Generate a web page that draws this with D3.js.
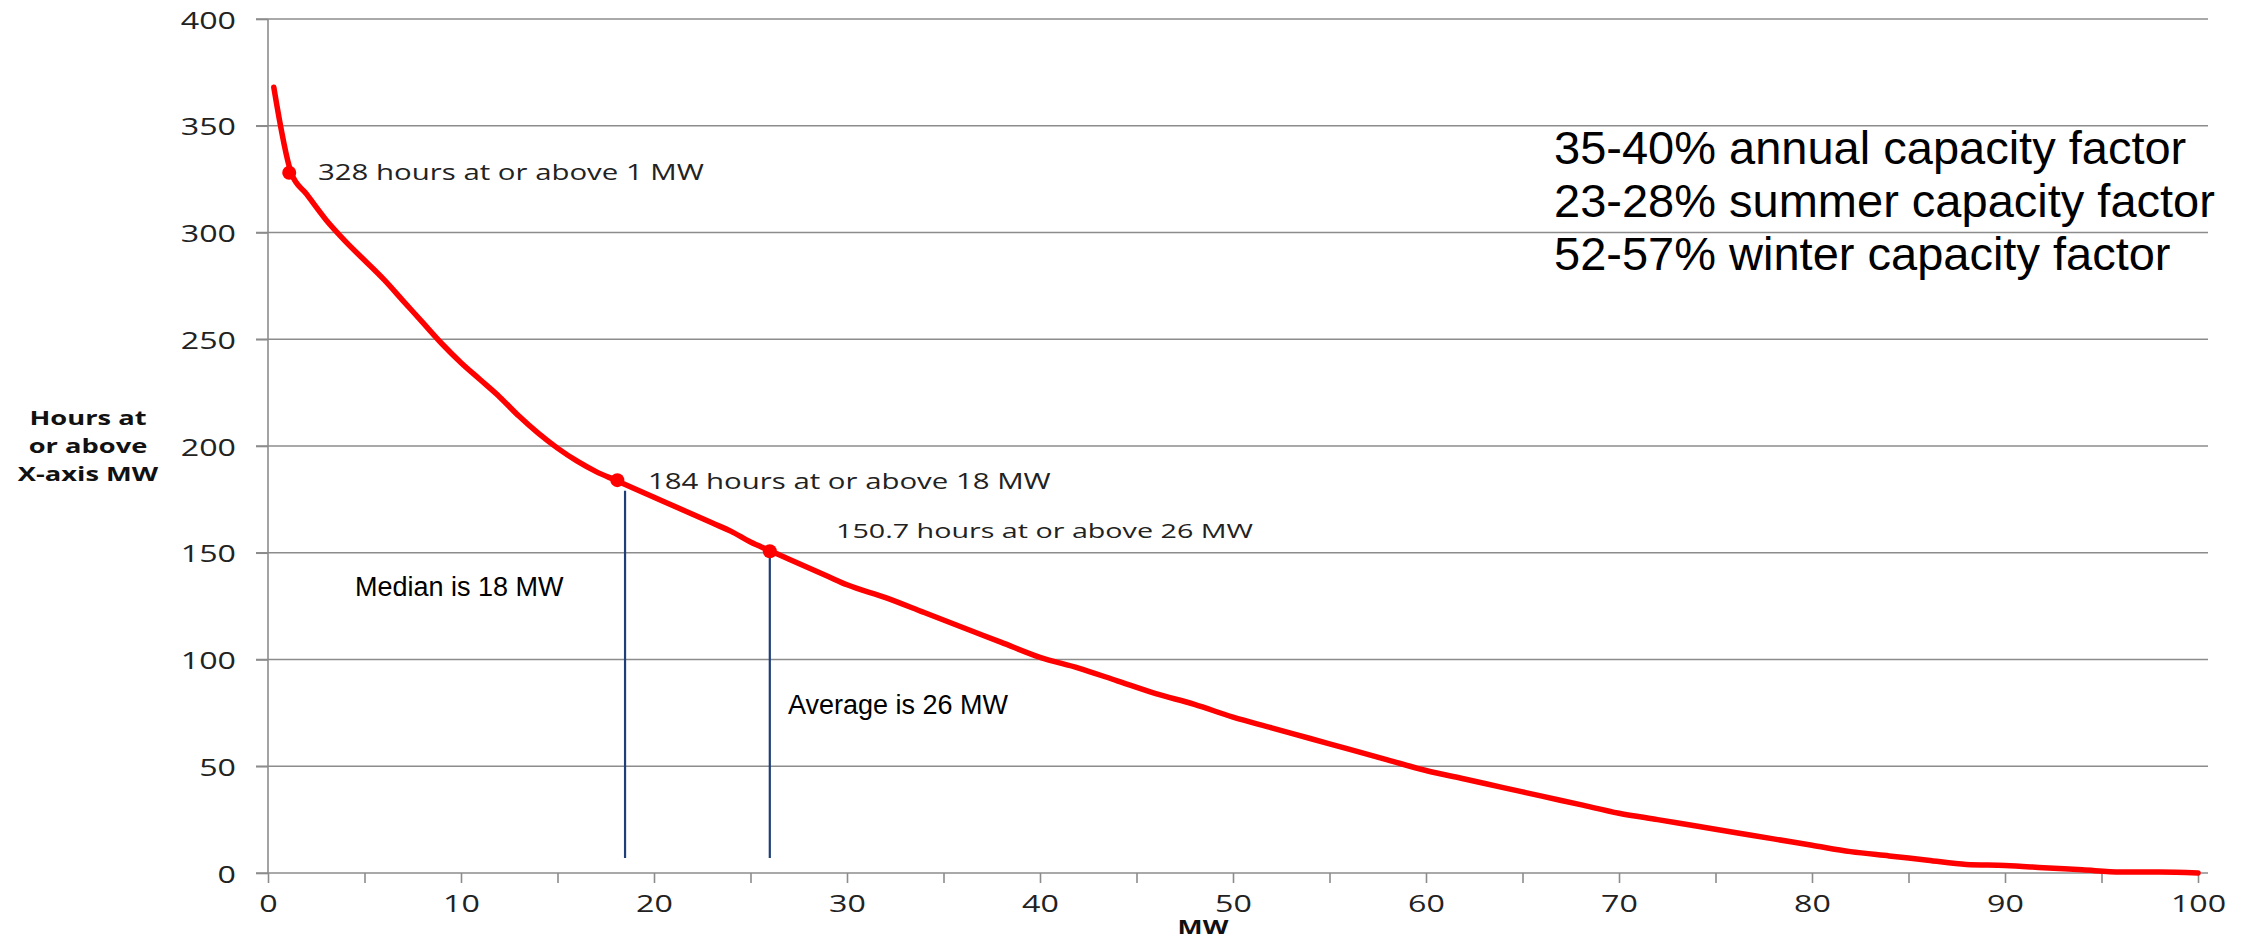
<!DOCTYPE html>
<html>
<head>
<meta charset="utf-8">
<script src="https://cdn.jsdelivr.net/npm/d3@7"></script>
<style>
  body { margin: 0; background: #fff; }
</style>
</head>
<body>
<script>
// duration curve
var mw = [0.3, 1.2, 2, 3, 4, 5, 6, 7, 8, 9, 10, 11, 12, 13, 14, 15, 16, 17, 18, 19,
          20, 21, 22, 23, 24, 25, 26, 27, 28, 29, 30, 32, 34, 36, 38, 40, 42, 44, 46, 48,
          50, 52, 54, 56, 58, 60, 62, 64, 66, 68, 70, 72, 74, 76, 78, 80, 82, 84, 86, 88,
          90, 92, 94, 96, 98, 100];
var hours = [368, 328, 318, 306, 296, 287, 278, 268, 258, 248, 239, 231, 223, 214, 206, 199, 193, 188, 184, 180,
             176, 172, 168, 164, 160, 155, 151, 147, 143, 139, 135, 129, 122, 115, 108, 101, 96, 90, 84, 79,
             73, 68, 63, 58, 53, 48, 44, 40, 36, 32, 28, 25, 22, 19, 16, 13, 10, 8, 6, 4,
             3.5, 2.5, 1.5, 0.5, 0.5, 0];

var yTicks = [0, 50, 100, 150, 200, 250, 300, 350, 400];
var xTicks = [0, 5, 10, 15, 20, 25, 30, 35, 40, 45, 50, 55, 60, 65, 70, 75, 80, 85, 90, 95, 100];

var markX = [1.1, 18.1, 26.0];
var markY = [328, 184, 150.7];
var markLabels = ['328 hours at or above 1 MW', '184 hours at or above 18 MW', '150.7 hours at or above 26 MW'];

var refX = [18.5, 26.0];
var refTop = [179, 148];
var refLabels = ['Median is 18 MW', 'Average is 26 MW'];

var notes = ['35-40% annual capacity factor', '23-28% summer capacity factor', '52-57% winter capacity factor'];

var w = 2249, h = 949,
  stretch = 1.4,
  calibri = "'Open Sans', 'Noto Sans', sans-serif",
  arial = "'Liberation Sans', Arial, sans-serif";

var x = d3.scaleLinear().domain([0, 100]).range([268, 2198]);
var y = d3.scaleLinear().domain([0, 400]).range([873, 19]);
var xEnd = 2208;

var svg = d3.select('body').append('svg')
  .attr('width', w)
  .attr('height', h)
  .style('display', 'block');

svg.append('rect').attr('width', w).attr('height', h).attr('fill', '#fff');

// stretched text, the source picture is wider than it was drawn
function stext(px, py, str, size, weight, anchor) {
  return svg.append('text')
    .attr('transform', 'translate(' + px + ',' + py + ') scale(' + stretch + ',1)')
    .attr('font-family', calibri)
    .attr('font-size', size + 'px')
    .attr('font-weight', weight || 'normal')
    .attr('text-anchor', anchor || 'start')
    .attr('dominant-baseline', 'central')
    .attr('fill', '#222')
    .text(str);
}

// gridlines
svg.selectAll('line.grid').data(yTicks.slice(1))
  .enter()
  .append('line')
  .attr('class', 'grid')
  .attr('x1', x(0) - 12)
  .attr('x2', xEnd)
  .attr('y1', function (d) { return y(d); })
  .attr('y2', function (d) { return y(d); })
  .attr('stroke', '#8c8c8c')
  .attr('stroke-width', 1.6);

// y axis
var yAxis = svg.append('g')
  .attr('transform', 'translate(' + x(0) + ',0)')
  .call(d3.axisLeft(y).tickValues(yTicks).tickSize(12).tickPadding(0).tickFormat(d3.format('d')));
yAxis.select('.domain').attr('stroke', '#8c8c8c').attr('stroke-width', 1.6).attr('d', 'M0,' + y(400) + 'V' + y(0));
yAxis.selectAll('.tick line').attr('stroke', '#8c8c8c').attr('stroke-width', 1.6);
yAxis.selectAll('.tick text')
  .attr('x', null)
  .attr('dy', null)
  .attr('transform', 'translate(-32,0) scale(' + stretch + ',1)')
  .attr('dominant-baseline', 'central')
  .attr('font-family', calibri)
  .attr('font-size', '23px')
  .attr('fill', '#222');

// x axis
var xAxis = svg.append('g')
  .attr('transform', 'translate(0,' + y(0) + ')')
  .call(d3.axisBottom(x).tickValues(xTicks).tickSize(10).tickSizeOuter(0)
    .tickFormat(function (d) { return d % 10 === 0 ? d : ''; }));
xAxis.select('.domain').attr('stroke', '#8c8c8c').attr('stroke-width', 1.6).attr('d', 'M' + (x(0) - 12) + ',0H' + xEnd);
xAxis.selectAll('.tick line').attr('stroke', '#8c8c8c').attr('stroke-width', 1.6);
xAxis.selectAll('.tick text')
  .attr('y', null)
  .attr('dy', null)
  .attr('transform', 'translate(0,30) scale(' + stretch + ',1)')
  .attr('dominant-baseline', 'central')
  .attr('font-family', calibri)
  .attr('font-size', '23px')
  .attr('fill', '#222');

// axis titles
['Hours at', 'or above', 'X-axis MW'].forEach(function (t, i) {
  stext(88, 418 + i * 28, t, 19.5, 'bold', 'middle').attr('fill', '#111');
});
stext(1203, 927, 'MW', 19, 'bold', 'middle').attr('fill', '#111');

// median / average reference lines
svg.selectAll('line.ref').data(refX)
  .enter()
  .append('line')
  .attr('class', 'ref')
  .attr('x1', function (d) { return x(d); })
  .attr('x2', function (d) { return x(d); })
  .attr('y1', function (d, i) { return y(refTop[i]); })
  .attr('y2', y(7))
  .attr('stroke', '#1f3f77')
  .attr('stroke-width', 2.2);

// the curve
var line = d3.line()
  .x(function (d, i) { return x(mw[i]); })
  .y(function (d) { return y(d); })
  .curve(d3.curveMonotoneX);

svg.append('path')
  .datum(hours)
  .attr('d', line)
  .attr('fill', 'none')
  .attr('stroke', '#ff0000')
  .attr('stroke-width', 5.5)
  .attr('stroke-linejoin', 'round')
  .attr('stroke-linecap', 'round');

svg.selectAll('circle.mark').data(markY)
  .enter()
  .append('circle')
  .attr('class', 'mark')
  .attr('cx', function (d, i) { return x(markX[i]); })
  .attr('cy', function (d) { return y(d); })
  .attr('r', 7)
  .attr('fill', '#ff0000');

// point labels
var labelPos = [[318, 172], [648, 481], [836, 530]];
var labelSize = [21, 21, 20.5];
markLabels.forEach(function (t, i) {
  stext(labelPos[i][0], labelPos[i][1], t, labelSize[i]);
});

// reference labels
var refPos = [[355, 587], [788, 705]];
refLabels.forEach(function (t, i) {
  svg.append('text')
    .attr('x', refPos[i][0])
    .attr('y', refPos[i][1])
    .attr('dominant-baseline', 'central')
    .attr('font-family', arial)
    .attr('font-size', '27px')
    .attr('fill', '#000')
    .text(t);
});

// capacity factor notes
svg.selectAll('text.note').data(notes)
  .enter()
  .append('text')
  .attr('class', 'note')
  .attr('x', 1554)
  .attr('y', function (d, i) { return 147 + i * 53; })
  .attr('dominant-baseline', 'central')
  .attr('font-family', arial)
  .attr('font-size', '47px')
  .attr('fill', '#000')
  .text(function (d) { return d; });
</script>
</body>
</html>
